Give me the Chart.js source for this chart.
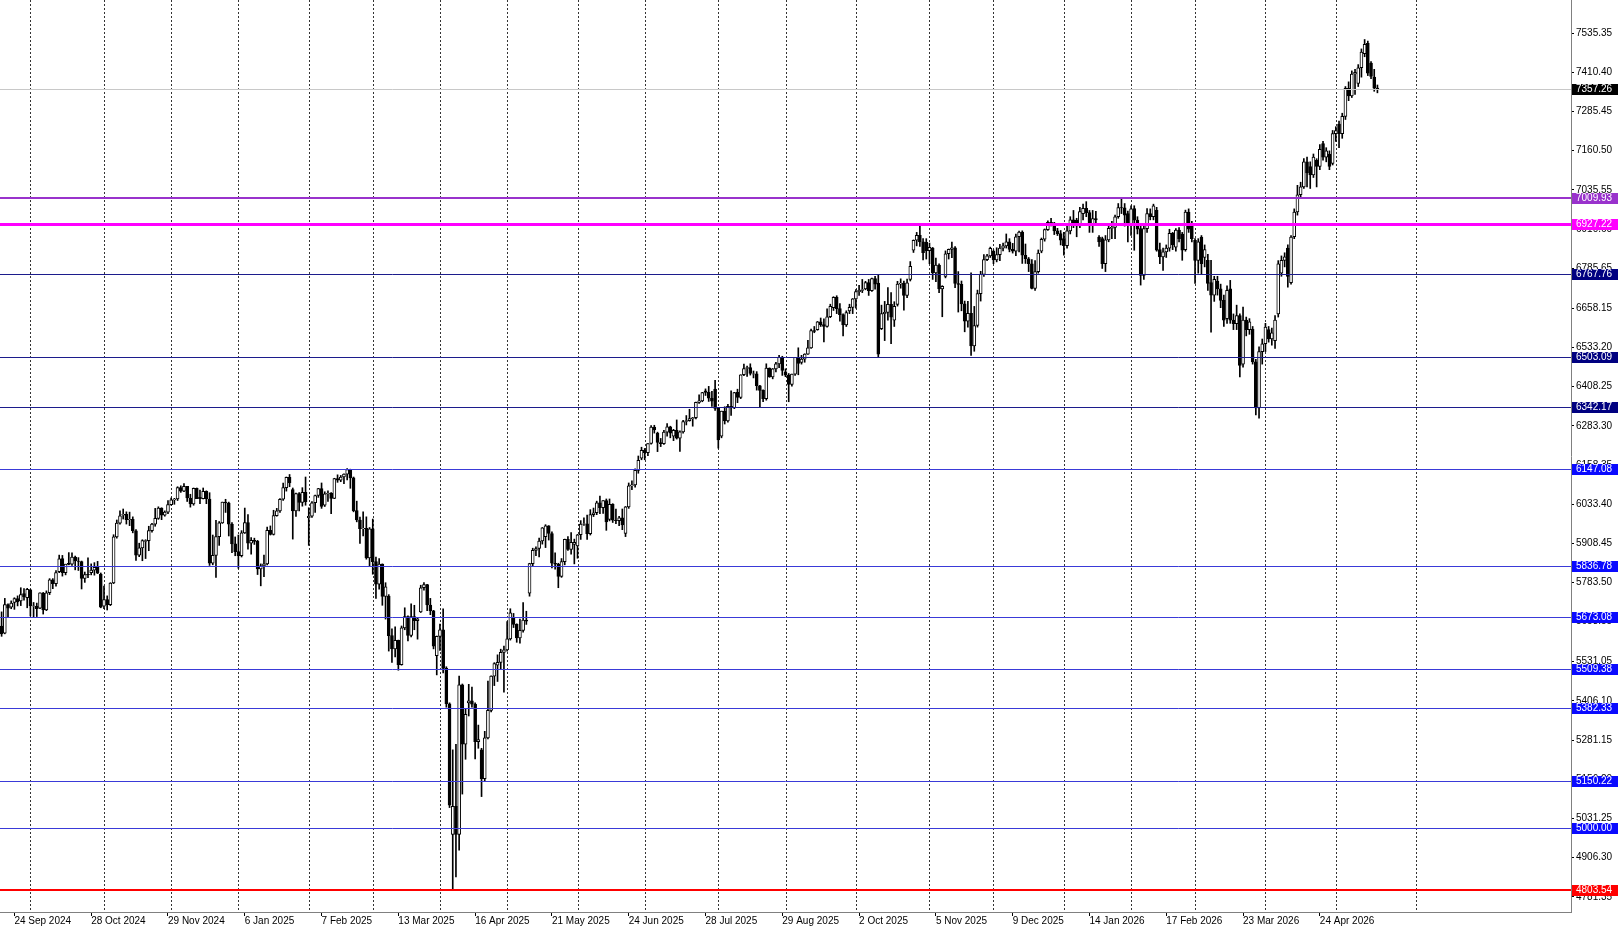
<!DOCTYPE html>
<html>
<head>
<meta charset="utf-8">
<script src="https://cdn.jsdelivr.net/npm/chart.js@4.4.1/dist/chart.umd.min.js"></script>
<style>
  html, body { margin: 0; padding: 0; background: #fff; }
  canvas { display: block; }
</style>
</head>
<body>
<canvas id="chart" width="1620" height="927"></canvas>
<script>
// US500 daily candles, 18 Sep 2024 .. May 2026 (one entry per bar)
const opens = [
  5645,5622,5713,5705,5720,5732,5725,5748,5735,5760,
  5708,5708,5702,5750,5696,5751,5792,5780,5818,5860,
  5815,5845,5842,5865,5852,5850,5797,5810,5815,5823,
  5832,5810,5708,5729,5713,5782,5929,5973,5998,6001,
  5984,5985,5948,5871,5894,5915,5917,5949,5970,5988,
  6021,5998,6008,6032,6047,6050,6086,6075,6090,6053,
  6034,6084,6055,6051,6074,6050,5845,5870,5930,5974,
  6040,6037,5970,5907,5882,5869,5942,5975,5909,5918,
  5915,5827,5837,5843,5950,5937,5997,6012,6049,6086,
  6119,6080,6012,6067,6039,6071,5990,5995,6038,6061,
  6083,6030,6066,6069,6052,6115,6110,6120,6129,6144,
  6117,6013,5983,5955,5956,5862,5955,5850,5778,5842,
  5739,5740,5614,5572,5599,5522,5639,5675,5615,5675,
  5662,5690,5767,5777,5712,5693,5550,5612,5633,5510,
  5397,4980,5070,4980,5457,5268,5400,5406,5396,5276,
  5250,5158,5288,5376,5485,5520,5529,5561,5569,5604,
  5670,5650,5607,5631,5664,5750,5844,5886,5892,5916,
  5930,5964,5940,5845,5842,5803,5850,5921,5889,5905,
  5900,5936,5970,5971,5939,6000,6006,6038,6022,6045,
  5985,6033,5982,5981,5990,5940,6025,6092,6095,6141,
  6180,6205,6198,6227,6279,6260,6230,6226,6263,6280,
  6250,6269,6244,6264,6297,6300,6306,6309,6358,6363,
  6395,6390,6371,6400,6339,6250,6330,6299,6345,6340,
  6390,6374,6446,6466,6469,6448,6449,6411,6396,6370,
  6467,6439,6465,6481,6502,6455,6445,6415,6448,6502,
  6485,6496,6512,6532,6587,6590,6615,6606,6600,6631,
  6660,6693,6657,6638,6605,6650,6661,6688,6711,6715,
  6720,6740,6714,6753,6738,6593,6641,6645,6671,6620,
  6670,6735,6738,6699,6750,6843,6875,6891,6870,6868,
  6842,6850,6771,6796,6720,6760,6832,6846,6851,6737,
  6734,6672,6617,6642,6538,6603,6705,6766,6813,6825,
  6840,6812,6829,6850,6857,6870,6846,6840,6886,6901,
  6827,6816,6800,6721,6775,6840,6878,6909,6932,6930,
  6905,6896,6880,6858,6905,6940,6939,6921,6960,6977,
  6963,6926,6944,6885,6880,6800,6876,6913,6916,6950,
  6979,6978,6960,6925,6976,6939,6912,6763,6912,6960,
  6950,6970,6845,6822,6838,6850,6897,6853,6907,6895,
  6845,6965,6925,6875,6811,6885,6820,6811,6740,6700,
  6745,6720,6683,6625,6720,6620,6609,6635,6480,6620,
  6590,6592,6487,6340,6520,6545,6590,6560,6555,6640,
  6770,6811,6850,6740,6886,6965,7020,7045,7125,7110,
  7083,7130,7110,7183,7140,7150,7120,7215,7245,7215,
  7270,7359,7335,7405,7375,7425,7470,7503,7440,7395,
  7360
];
const highs = [
  5690,5733,5716,5725,5735,5741,5767,5764,5765,5762,
  5720,5718,5751,5752,5757,5796,5796,5822,5871,5870,
  5842,5879,5878,5868,5863,5852,5817,5862,5843,5847,
  5851,5814,5772,5741,5783,5936,5983,6012,6018,6009,
  6008,5993,5952,5909,5920,5920,5963,5972,6020,6025,
  6022,6012,6045,6053,6052,6089,6092,6099,6090,6065,
  6085,6085,6078,6085,6076,6070,5935,5982,5978,6040,
  6049,6040,5975,5929,5935,5949,6021,6000,5927,5925,
  5918,5843,5871,5960,5964,6014,6020,6051,6101,6120,
  6128,6085,6069,6070,6086,6120,6022,6042,6062,6084,
  6101,6073,6076,6070,6116,6127,6125,6130,6147,6145,
  6120,6043,5992,6009,5993,5959,5986,5865,5860,5843,
  5783,5745,5636,5642,5600,5645,5703,5677,5716,5711,
  5670,5775,5783,5778,5733,5695,5613,5651,5700,5515,
  5400,5250,5268,5485,5460,5381,5459,5450,5400,5329,
  5255,5309,5469,5486,5528,5553,5571,5581,5659,5700,
  5685,5652,5667,5720,5692,5845,5893,5897,5925,5959,
  5968,5965,5945,5878,5845,5860,5922,5930,5943,5922,
  5937,5981,5990,5999,6016,6021,6043,6059,6045,6050,
  6050,6035,6018,5995,6018,6026,6101,6108,6146,6187,
  6215,6211,6227,6284,6285,6263,6243,6269,6290,6282,
  6272,6302,6267,6301,6316,6336,6310,6359,6382,6390,
  6401,6409,6393,6428,6340,6330,6344,6352,6395,6390,
  6400,6446,6480,6474,6481,6458,6456,6412,6398,6481,
  6468,6466,6486,6508,6505,6465,6450,6448,6502,6532,
  6508,6513,6556,6592,6600,6616,6627,6624,6656,6671,
  6695,6698,6673,6640,6650,6671,6689,6718,6731,6750,
  6744,6750,6754,6760,6765,6668,6680,6724,6708,6679,
  6744,6752,6745,6751,6807,6876,6900,6920,6880,6880,
  6866,6852,6818,6800,6730,6841,6847,6869,6855,6775,
  6745,6681,6680,6771,6664,6716,6776,6829,6830,6853,
  6844,6851,6862,6866,6895,6880,6865,6895,6904,6905,
  6863,6820,6813,6810,6844,6882,6911,6937,6945,6932,
  6913,6906,6900,6920,6950,6970,6945,6980,6990,6998,
  6970,6970,6967,6890,6885,6890,6925,6935,6955,6992,
  7010,6992,6968,6985,6985,6950,6920,6920,6976,6975,
  6990,6980,6866,6850,6860,6910,6900,6912,6915,6900,
  6971,6975,6935,6880,6880,6890,6860,6830,6811,6760,
  6760,6735,6700,6730,6747,6640,6668,6640,6662,6630,
  6625,6600,6495,6535,6560,6610,6600,6595,6635,6810,
  6825,6835,6860,6890,6975,7050,7060,7135,7140,7125,
  7150,7135,7180,7190,7170,7160,7225,7237,7255,7280,
  7365,7380,7415,7420,7435,7485,7515,7510,7445,7420,
  7370
];
const lows = [
  5612,5620,5675,5700,5698,5709,5710,5727,5703,5677,
  5674,5675,5700,5683,5694,5745,5764,5772,5815,5804,
  5808,5840,5838,5824,5822,5763,5784,5799,5808,5807,
  5812,5703,5700,5696,5710,5780,5925,5970,5986,5970,
  5965,5942,5854,5866,5853,5860,5885,5944,5963,5985,
  5984,5995,6003,6030,6033,6045,6071,6073,6042,6024,
  6030,6051,6035,6050,6035,5838,5840,5800,5902,5972,
  6007,5932,5879,5869,5829,5865,5940,5890,5874,5905,
  5809,5773,5802,5840,5935,5935,5995,6007,6045,6075,
  6089,5922,5994,6012,6027,6030,5902,5991,6007,6055,
  6020,6026,6042,6003,6051,6103,6105,6099,6111,6084,
  6009,5977,5908,5932,5858,5837,5810,5733,5762,5711,
  5667,5565,5529,5546,5504,5520,5633,5597,5610,5633,
  5603,5688,5759,5694,5681,5572,5489,5567,5495,5386,
  5066,4804,4845,4930,5109,5220,5358,5386,5221,5255,
  5101,5150,5285,5371,5455,5468,5506,5434,5565,5600,
  5640,5593,5590,5625,5650,5740,5835,5869,5865,5906,
  5895,5919,5830,5826,5767,5800,5840,5886,5874,5843,
  5861,5921,5966,5921,5935,5994,6000,6003,6004,5950,
  5980,5975,5971,5965,5952,5930,6020,6080,6088,6132,
  6175,6175,6188,6225,6260,6201,6217,6224,6250,6245,
  6236,6241,6202,6260,6286,6298,6282,6305,6355,6360,
  6380,6361,6345,6332,6212,6245,6289,6295,6316,6338,
  6357,6370,6443,6441,6445,6436,6397,6344,6360,6365,
  6438,6433,6455,6469,6444,6440,6360,6410,6444,6446,
  6480,6486,6511,6530,6580,6588,6600,6551,6598,6628,
  6651,6641,6617,6570,6600,6641,6641,6658,6699,6708,
  6717,6699,6712,6719,6503,6590,6555,6620,6545,6600,
  6665,6722,6652,6692,6745,6836,6857,6855,6812,6815,
  6800,6750,6743,6708,6631,6755,6815,6819,6724,6646,
  6650,6583,6598,6508,6521,6598,6681,6760,6810,6820,
  6800,6806,6810,6841,6850,6838,6834,6826,6838,6801,
  6801,6775,6720,6715,6770,6835,6872,6906,6921,6893,
  6890,6860,6827,6850,6895,6915,6886,6915,6940,6950,
  6900,6900,6925,6855,6785,6775,6870,6880,6880,6945,
  6960,6920,6870,6890,6843,6895,6732,6750,6900,6940,
  6940,6840,6800,6779,6820,6840,6845,6840,6870,6811,
  6840,6900,6870,6737,6770,6768,6790,6715,6582,6680,
  6700,6660,6600,6610,6610,6590,6590,6439,6470,6570,
  6575,6480,6318,6308,6480,6520,6550,6540,6530,6630,
  6760,6790,6725,6735,6880,6955,7010,7040,7045,7040,
  7075,7045,7100,7130,7125,7100,7115,7190,7170,7200,
  7260,7320,7330,7340,7365,7395,7460,7400,7390,7350,
  7345
];
const closes = [
  5620,5713,5702,5718,5732,5722,5745,5738,5762,5709,
  5709,5700,5751,5696,5751,5792,5780,5815,5859,5815,
  5842,5841,5865,5853,5851,5797,5809,5808,5823,5832,
  5813,5705,5729,5713,5782,5929,5973,5996,6001,5984,
  5985,5949,5871,5894,5917,5917,5949,5970,5988,6021,
  5998,6008,6032,6047,6050,6086,6075,6090,6053,6034,
  6084,6051,6051,6074,6050,5845,5870,5930,5974,6040,
  6037,5970,5907,5882,5869,5942,5975,5909,5918,5915,
  5827,5837,5843,5950,5937,5997,6012,6049,6086,6119,
  6101,6012,6067,6039,6071,6041,5995,6038,6061,6083,
  6026,6066,6069,6052,6115,6110,6120,6129,6144,6117,
  6013,5983,5955,5956,5862,5955,5850,5778,5842,5739,
  5770,5614,5572,5599,5522,5639,5675,5615,5675,5662,
  5668,5767,5777,5712,5693,5581,5612,5633,5510,5397,
  5074,5070,4980,5457,5268,5363,5406,5396,5276,5283,
  5158,5288,5376,5485,5525,5529,5561,5569,5604,5687,
  5650,5607,5631,5664,5660,5844,5886,5892,5916,5958,
  5964,5940,5845,5842,5803,5850,5921,5889,5912,5912,
  5936,5970,5971,5939,6000,6006,6038,6022,6045,5977,
  6033,5982,5981,5990,5967,6025,6092,6095,6141,6173,
  6205,6198,6227,6279,6270,6230,6226,6263,6280,6260,
  6269,6244,6264,6297,6300,6306,6309,6358,6363,6389,
  6390,6371,6362,6339,6238,6330,6299,6345,6340,6389,
  6374,6446,6466,6469,6450,6449,6411,6396,6370,6467,
  6439,6465,6481,6502,6460,6445,6415,6448,6502,6482,
  6496,6512,6532,6587,6584,6615,6606,6600,6631,6664,
  6693,6657,6638,6605,6644,6661,6688,6711,6715,6718,
  6740,6714,6753,6735,6512,6641,6645,6671,6630,6664,
  6735,6738,6699,6739,6792,6875,6891,6870,6835,6842,
  6852,6771,6796,6720,6728,6832,6846,6851,6737,6734,
  6672,6617,6642,6538,6603,6705,6766,6813,6825,6849,
  6812,6829,6850,6857,6870,6846,6840,6886,6901,6827,
  6816,6800,6721,6775,6834,6878,6909,6932,6930,6905,
  6896,6875,6858,6905,6940,6925,6921,6966,6977,6963,
  6926,6944,6940,6870,6800,6876,6913,6916,6950,6979,
  6978,6955,6925,6975,6939,6910,6763,6912,6960,6950,
  6985,6843,6822,6838,6850,6897,6860,6907,6880,6843,
  6965,6910,6880,6811,6870,6800,6845,6737,6700,6750,
  6720,6683,6620,6715,6620,6609,6635,6476,6620,6590,
  6615,6487,6340,6520,6545,6598,6560,6580,6620,6800,
  6811,6822,6760,6885,6965,7020,7045,7125,7090,7083,
  7140,7110,7165,7140,7160,7110,7215,7225,7215,7270,
  7359,7335,7405,7410,7425,7475,7500,7408,7397,7360,
  7357.26
];

// the chart leaves empty room to the right of the last bar
const slotCount = 491;

// bottom axis labels (bar index, text)
const xTickIdx = [4, 28, 52, 76, 100, 124, 148, 172, 196, 220, 244, 268, 292, 316, 340, 364, 388, 412];
const xTickText = ['24 Sep 2024', '28 Oct 2024', '29 Nov 2024', '6 Jan 2025', '7 Feb 2025', '13 Mar 2025',
  '16 Apr 2025', '21 May 2025', '24 Jun 2025', '28 Jul 2025', '29 Aug 2025', '2 Oct 2025', '5 Nov 2025',
  '9 Dec 2025', '14 Jan 2026', '17 Feb 2026', '23 Mar 2026', '24 Apr 2026'];

// first bar of each month -> dotted vertical grid
const monthStarts = [9, 32, 53, 74, 96, 116, 137, 158, 180, 201, 224, 245, 267, 290, 310, 332, 353, 373, 395, 417, 442];

// right axis price labels
const yTickLabels = ['7535.35', '7410.40', '7285.45', '7160.50', '7035.55', '6910.60', '6785.65', '6658.15',
  '6533.20', '6408.25', '6283.30', '6158.35', '6033.40', '5908.45', '5783.50', '5658.55', '5531.05',
  '5406.10', '5281.15', '5156.20', '5031.25', '4906.30', '4781.35'];

// horizontal levels
const levelValues = [7357.26, 7009.93, 6927.22, 6767.76, 6503.09, 6342.17, 6147.08, 5836.78, 5673.08, 5509.38, 5382.33, 5150.22, 5000.00, 4803.54];
const levelLineColors = ['#c8c8c8', '#9932cc', '#ff00ff', '#1c1c8c', '#1c1c8c', '#1c1c8c', '#3a3ad8', '#3a3ad8', '#3a3ad8', '#3a3ad8', '#3a3ad8', '#3a3ad8', '#3a3ad8', '#ff0000'];
const levelBoxColors = ['#000000', '#9932cc', '#ff00ff', '#000080', '#000080', '#000080', '#0a0aff', '#0a0aff', '#0a0aff', '#0a0aff', '#0a0aff', '#0a0aff', '#0a0aff', '#ff0000'];
const levelWidths = [1, 2, 3, 1, 1, 1, 1, 1, 1, 1, 1, 1, 1, 2];

const FONT = { family: 'Liberation Sans, Arial, sans-serif', size: 10, lineHeight: 1 };

const wickData = highs.map((h, i) => [lows[i], h]);
const bodyData = opens.map((o, i) => [o, closes[i]]);
const bodyFill = opens.map((o, i) => closes[i] >= o ? '#ffffff' : '#000000');

const overlay = {
  id: 'overlay',
  beforeDatasetsDraw(chart) {
    const { ctx, chartArea: a, scales: { x } } = chart;
    ctx.save();
    ctx.strokeStyle = '#333';
    ctx.lineWidth = 1;
    ctx.setLineDash([2, 2]);
    monthStarts.forEach(i => {
      const px = Math.round(x.getPixelForValue(i)) + 0.5;
      ctx.beginPath();
      ctx.moveTo(px, a.top);
      ctx.lineTo(px, a.bottom);
      ctx.stroke();
    });
    ctx.restore();
  },
  afterDatasetsDraw(chart) {
    const { ctx, chartArea: a, scales: { y } } = chart;
    ctx.save();
    levelValues.forEach((v, i) => {
      const w = levelWidths[i];
      let py = Math.round(y.getPixelForValue(v));
      if (w % 2 === 1) py += 0.5;
      ctx.strokeStyle = levelLineColors[i];
      ctx.lineWidth = w;
      ctx.beginPath();
      ctx.moveTo(a.left, py);
      ctx.lineTo(a.right, py);
      ctx.stroke();
    });
    ctx.restore();
  },
  afterDraw(chart) {
    const { ctx, chartArea: a, scales: { y } } = chart;
    ctx.save();
    ctx.font = '10px ' + FONT.family;
    ctx.textBaseline = 'middle';
    ctx.textAlign = 'left';
    levelValues.forEach((v, i) => {
      const py = Math.round(y.getPixelForValue(v));
      ctx.fillStyle = levelBoxColors[i];
      ctx.fillRect(a.right + 1, py - 5, 46, 11);
      ctx.fillStyle = '#ffffff';
      ctx.fillText(v.toFixed(2), a.right + 5, py + 0.5);
    });
    ctx.restore();
  }
};

new Chart(document.getElementById('chart'), {
  type: 'bar',
  data: {
    labels: Array.from({ length: slotCount }, (_, i) => i),
    datasets: [
      {
        label: 'wick',
        data: wickData,
        backgroundColor: '#000000',
        barThickness: 1,
        grouped: false,
        order: 2
      },
      {
        label: 'body',
        data: bodyData,
        backgroundColor: bodyFill,
        borderColor: '#000000',
        borderWidth: 1,
        borderSkipped: false,
        barThickness: 3,
        grouped: false,
        order: 1
      }
    ]
  },
  options: {
    responsive: false,
    animation: false,
    devicePixelRatio: 1,
    layout: { padding: 0 },
    plugins: {
      legend: { display: false },
      tooltip: { enabled: false }
    },
    scales: {
      x: {
        offset: true,
        grid: { drawOnChartArea: false, offset: false, tickLength: 4, tickColor: '#000' },
        border: { display: true, color: '#808080' },
        ticks: {
          autoSkip: false,
          maxRotation: 0,
          align: 'start',
          labelOffset: 0,
          padding: 0,
          color: '#000',
          font: FONT,
          callback: v => xTickText[xTickIdx.indexOf(v)]
        },
        afterBuildTicks: s => { s.ticks = xTickIdx.map(v => ({ value: v })); },
        afterFit: s => { s.height = 15; s.paddingLeft = 0; s.paddingRight = 0; }
      },
      y: {
        position: 'right',
        min: 4733,
        max: 7641,
        grid: { drawOnChartArea: false, tickLength: 3, tickColor: '#000' },
        border: { display: true, color: '#808080' },
        ticks: {
          autoSkip: false,
          padding: 2,
          color: '#000',
          font: FONT,
          callback: v => yTickLabels.find(t => parseFloat(t) === v)
        },
        afterBuildTicks: s => { s.ticks = yTickLabels.map(t => ({ value: parseFloat(t) })); },
        afterFit: s => { s.width = 49; s.paddingTop = 0; s.paddingBottom = 0; }
      }
    }
  },
  plugins: [overlay]
});
</script>
</body>
</html>
